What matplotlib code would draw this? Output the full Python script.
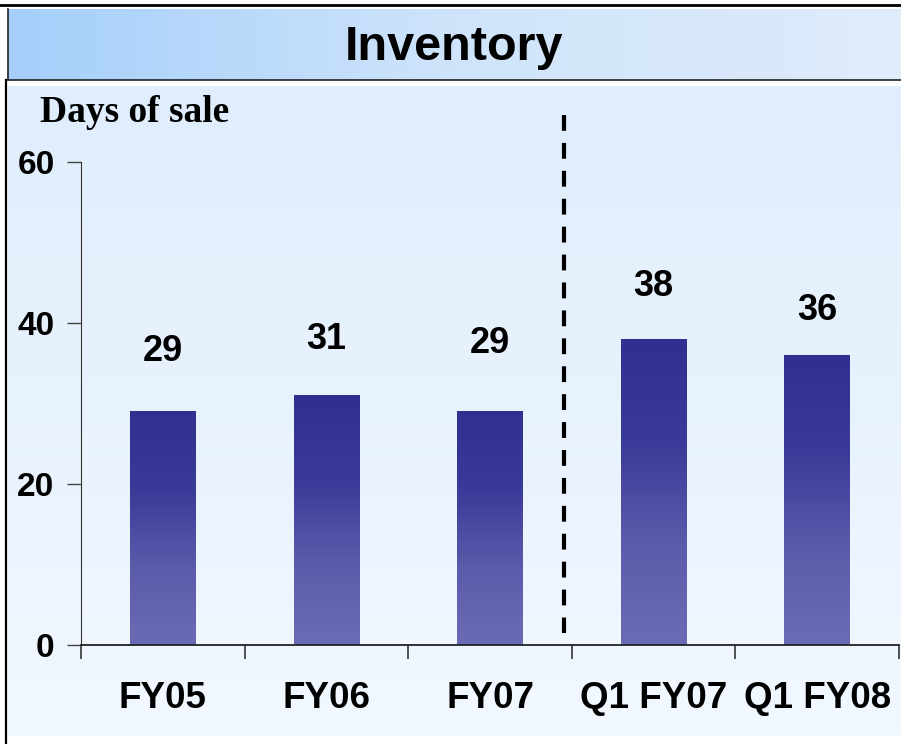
import matplotlib.pyplot as plt
import numpy as np
from matplotlib.colors import LinearSegmentedColormap

# data
categories = ['FY05', 'FY06', 'FY07', 'Q1 FY07', 'Q1 FY08']
values = [29, 31, 29, 38, 36]
yticks = [0, 20, 40, 60]
# where the value labels sit (data units), as in the original slide
label_y = [36.4, 37.9, 37.4, 44.5, 41.6]

W, H = 901, 744
fig = plt.figure(figsize=(W / 100, H / 100), dpi=100)
fig.patch.set_facecolor('white')

# main panel background (vertical gradient)
bg = fig.add_axes([8 / W, 8 / H, 893 / W, 650 / H], zorder=0)
bg_cmap = LinearSegmentedColormap.from_list('bg', ['#f2f8ff', '#dfedfc'])
bg.imshow(np.linspace(0, 1, 256).reshape(-1, 1), cmap=bg_cmap, aspect='auto', origin='lower')
bg.set_axis_off()

# title band (horizontal gradient)
tb = fig.add_axes([8 / W, 1 - 80 / H, 893 / W, 71 / H], zorder=0)
tb_cmap = LinearSegmentedColormap.from_list('tb', ['#a4cffa', '#cfe4fb', '#dfecfa'])
tb.imshow(np.linspace(0, 1, 256).reshape(1, -1), cmap=tb_cmap, aspect='auto')
tb.set_xticks([])
tb.set_yticks([])
for s in tb.spines.values():
    s.set_color('#222222')
    s.set_linewidth(1.2)
tb.spines['right'].set_visible(False)
tb.spines['top'].set_visible(False)
tb.text(0.5, 0.46, 'Inventory', transform=tb.transAxes, ha='center', va='center',
        fontsize=35, fontweight='heavy', family='Liberation Sans')

# frame lines
fig.add_artist(plt.Line2D([0, 1], [1 - 5 / H, 1 - 5 / H], color='black', lw=2))
fig.add_artist(plt.Line2D([6 / W, 6 / W], [0, 1 - 80 / H], color='black', lw=1.6))

# chart axes
ax = fig.add_axes([81 / W, 1 - 645 / H, (899 - 81) / W, (645 - 162) / H], zorder=1)
ax.patch.set_alpha(0)
x = np.arange(len(categories))
bars = ax.bar(x, values, width=0.4, color='none')

bar_cmap = LinearSegmentedColormap.from_list('bar', ['#6b6bb5', '#5b5bab', '#3a3a98', '#303090'])
grad = np.linspace(0, 1, 256).reshape(-1, 1)
for r in bars:
    ax.imshow(grad, cmap=bar_cmap, aspect='auto', origin='lower',
              extent=[r.get_x(), r.get_x() + r.get_width(), 0, r.get_height()], zorder=2)
ax.set_xlim(-0.5, len(categories) - 0.5)
ax.set_ylim(0, 60)

for xi, v, ly in zip(x, values, label_y):
    ax.text(xi, ly, str(v), ha='center', va='center', fontsize=26,
            fontweight='bold', family='Liberation Sans')

# separator between annual and quarterly (drawn top-down so dashes start at the top)
ax.plot([2.45, 2.45], [65.8, 1.5], color='black', lw=3, ls=(0, (3.8, 2.9)), clip_on=False, zorder=3)

ax.spines['top'].set_visible(False)
ax.spines['right'].set_visible(False)
ax.spines['left'].set_color('#333333')
ax.spines['bottom'].set_color('#222222')
ax.spines['bottom'].set_linewidth(1.3)

ax.set_yticks(yticks)
ax.set_yticklabels([str(t) for t in yticks], fontsize=24, fontweight='bold', family='Liberation Sans')
ax.tick_params(axis='y', length=10, width=1, color='#444444', pad=9)

ax.set_xticks(x)
ax.set_xticklabels(categories, fontsize=26.5, fontweight='bold', family='Liberation Sans')
ax.tick_params(axis='x', which='major', length=0, pad=26)
ax.set_xticks(np.arange(-0.5, len(categories)), minor=True)
ax.tick_params(axis='x', which='minor', length=10, width=1.3, color='#444444')

fig.text(40 / W, 1 - 113 / H, 'Days of sale', ha='left', va='center', fontsize=27,
         fontweight='bold', family='Liberation Serif')

fig.savefig('out.png', dpi=100)
